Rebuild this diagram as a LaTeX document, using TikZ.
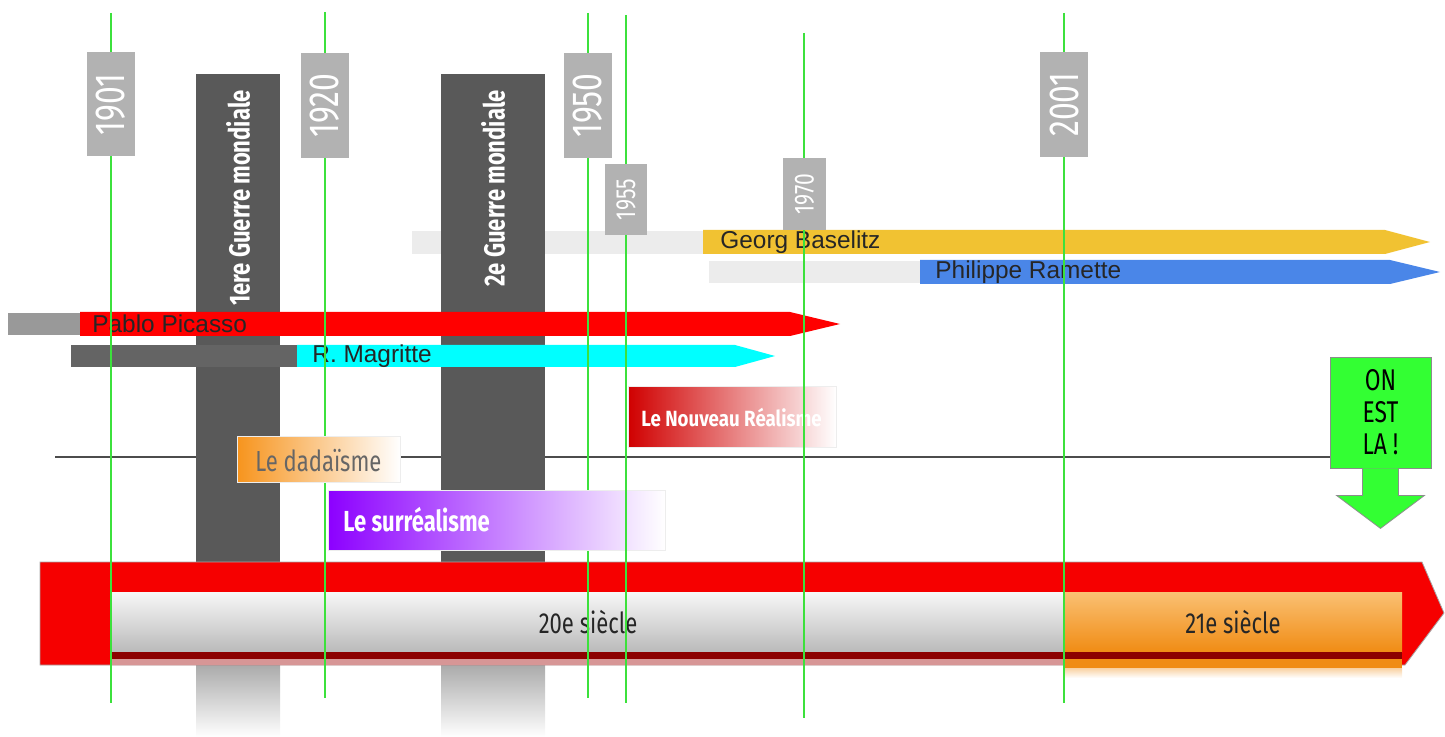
\documentclass[tikz,border=0pt]{standalone}
\usepackage{fontspec}
\setmainfont{Liberation Sans}
\newfontfamily\condfont[FakeStretch=0.76]{Fira Sans}
\newfontfamily\semicond[FakeStretch=0.85]{Fira Sans}
\usepackage{tikz}
\usetikzlibrary{positioning}

\definecolor{yeargray}{RGB}{178,178,178}
\definecolor{wargray}{RGB}{89,89,89}
\definecolor{linegreen}{RGB}{60,225,60}
\definecolor{barred}{RGB}{246,0,0}
\definecolor{darkred}{RGB}{140,0,0}
\definecolor{shadowpink}{RGB}{215,150,150}
\definecolor{gold}{RGB}{241,194,50}
\definecolor{ramblue}{RGB}{74,134,232}
\definecolor{paleback}{RGB}{236,236,236}
\definecolor{picgray}{RGB}{153,153,153}
\definecolor{magdark}{RGB}{100,100,100}
\definecolor{magcyan}{RGB}{0,255,255}
\definecolor{dadaorange}{RGB}{247,148,29}
\definecolor{surpurple}{RGB}{140,0,255}
\definecolor{nrred}{RGB}{208,0,0}
\definecolor{onestgreen}{RGB}{51,255,51}
\definecolor{orangetop}{RGB}{250,192,115}
\definecolor{orangebot}{RGB}{240,140,20}

\begin{document}
\begin{tikzpicture}[
    x=0.5pt, y=-0.5pt,
    yearlbl/.style={fill=yeargray, text=white, rotate=90, inner sep=0pt,
        font=\condfont\fontsize{21}{21}\selectfont},
    smallyear/.style={yearlbl, font=\condfont\fontsize{13.8}{13.8}\selectfont},
    wartext/.style={text=white, rotate=90, anchor=east, inner sep=0pt,
        font=\condfont\bfseries\fontsize{14.5}{14.5}\selectfont},
    artist/.style={anchor=west, inner sep=0pt, text=black!85,
        font=\fontsize{12.2}{12.2}\selectfont},
    movement/.style={anchor=west, inner sep=0pt,
        font=\condfont\bfseries\fontsize{14.5}{14.5}\selectfont},
    century/.style={inner sep=0pt, text=black!85,
        font=\condfont\fontsize{14.5}{14.5}\selectfont},
    yearline/.style={draw=linegreen, line width=0.8pt},
    mvbox/.style={draw=black!7, line width=0.5pt}
]
    \useasboundingbox (0,0) rectangle (1445,737);

    % "on est la" marker and the thin line leading to it
    \node[draw=black!45, fill=onestgreen, minimum width=50.5pt, minimum height=55.5pt,
          align=center, inner sep=0pt, font=\condfont\fontsize{15}{16}\selectfont]
        (onest) at (1380.5,412.5) {ON\\EST\\LA !};
    \fill[draw=black!45, fill=onestgreen] ([xshift=-9pt]onest.south) -- ++(0,27) -- ++(-26,0)
        -- ++(44,33) -- ++(44,-33) -- ++(-26,0) -- ++(0,-27);
    \coordinate (lstart) at (55,457);
    \draw[black!70, line width=0.6pt] (lstart) -- (lstart -| onest.west);

    % pale lead-in of the artist bars
    \fill[paleback] (412,231) rectangle (703,254);
    \fill[paleback] (709,261) rectangle (920,283);

    % the two world wars
    \shade[top color=black!33, bottom color=white] (196,665) rectangle (280,737);
    \shade[top color=black!33, bottom color=white] (441,665) rectangle (545,737);
    \fill[wargray] (196,74) rectangle (280,562);
    \fill[wargray] (441,74) rectangle (545,562);
    \node[wartext] (ww1) at (238,90) {1ere Guerre mondiale};
    \node[wartext] (ww2) at (493,90) {2e Guerre mondiale};

    % centuries
    \fill[barred, draw=black!35, line width=0.4pt] (40,562) -- (1422,562) -- (1444,613)
        -- (1405,665) -- (40,665) -- cycle;
    \shade[top color=white!97!black, bottom color=black!27] (111,592) rectangle (1064,652);
    \shade[top color=orangetop, bottom color=orangebot] (1064,592) rectangle (1402,652);
    \fill[darkred] (111,652) rectangle (1402,659);
    \fill[shadowpink] (111,659) rectangle (1064,665);
    \fill[orangebot] (1064,659) rectangle (1402,668);
    \shade[top color=orangebot!40, bottom color=white] (1064,668) rectangle (1402,678);
    \node[century] (s20) at (588,622) {20e siècle};
    \node[century] (s21) at (1233,622) {21e siècle};

    % artists
    \fill[gold] (703,230) -- (1385,230) -- (1430,242) -- (1385,254) -- (703,254) -- cycle;
    \node[artist] (baselitz) at (720,242) {Georg Baselitz};
    \fill[ramblue] (920,260) -- (1390,260) -- (1440,272) -- (1390,284) -- (920,284) -- cycle;
    \node[artist] (ramette) at (935,272) {Philippe Ramette};
    \fill[picgray] (8,313) rectangle (80,335);
    \fill[red] (80,312) -- (790,312) -- (840,324) -- (790,336) -- (80,336) -- cycle;
    \node[artist] (picasso) at (92,324) {Pablo Picasso};
    \fill[magdark] (71,345) rectangle (297,367);
    \fill[magcyan] (297,345) -- (735,345) -- (775,356) -- (735,367) -- (297,367) -- cycle;
    \node[artist] (magritte) at (312,356) {R. Magritte};

    \draw[yearline] (111,13) -- (111,703);
    \draw[yearline] (325,12) -- (325,698);
    \draw[yearline] (588,13) -- (588,698);

    % movements
    \shade[mvbox, left color=nrred, right color=white] (628,387) rectangle (836,447);
    \node[movement, text=white, font=\semicond\bfseries\fontsize{11}{11}\selectfont]
        (nouveau) at (641,418) {Le Nouveau Réalisme};
    \shade[mvbox, left color=dadaorange, right color=white] (237,436) rectangle (400,482);
    \node[movement, text=black!60, font=\condfont\fontsize{14.5}{14.5}\selectfont]
        (dada) at (255,461) {Le dadaïsme};
    \shade[mvbox, left color=surpurple, right color=white] (328,490) rectangle (665,550);
    \node[movement, text=white] (surreal) at (343,520) {Le surréalisme};

    \draw[yearline] (626,15) -- (626,703);
    \draw[yearline] (804,33) -- (804,718);
    \draw[yearline] (1064,13) -- (1064,703);

    % years
    \node[yearlbl, minimum width=52pt, minimum height=24pt] (y1901) at (111,104.5) {1901};
    \node[yearlbl, minimum width=52.5pt, minimum height=24pt] (y1920) at (325,105.5) {1920};
    \node[yearlbl, minimum width=52.5pt, minimum height=24pt] (y1950) at (588,105.5) {1950};
    \node[smallyear, minimum width=35.5pt, minimum height=21pt] (y1955) at (626,199.5) {1955};
    \node[smallyear, minimum width=36pt, minimum height=21.5pt] (y1970) at (804.5,194) {1970};
    \node[yearlbl, minimum width=52.5pt, minimum height=24pt] (y2001) at (1064,104.5) {2001};
\end{tikzpicture}
\end{document}
